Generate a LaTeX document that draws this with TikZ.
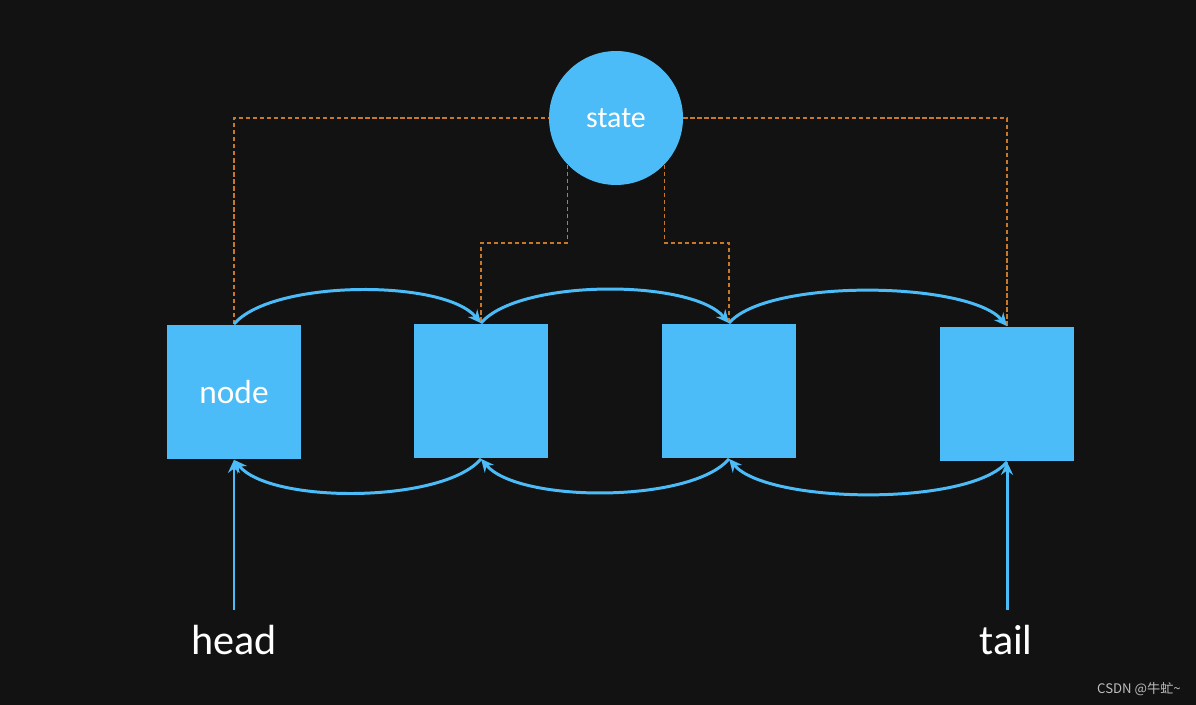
\documentclass[tikz,border=0pt]{standalone}
\usepackage{xcolor}
\usepackage{fontspec}
\setmainfont{Carlito}
\newfontfamily\cjk{Noto Sans CJK SC}
\usetikzlibrary{arrows.meta,positioning}

\definecolor{board}{RGB}{18,18,18}
\definecolor{skyblue}{RGB}{76,188,248}
\definecolor{wire}{RGB}{200,120,42}
\definecolor{mark}{RGB}{190,190,190}

\begin{document}
\begin{tikzpicture}[
  x=0.02cm, y=-0.02cm,
  >={Stealth[length=2.6mm, width=2.4mm]},
  every node/.style={align=center, text=white},
  cell/.style={fill=skyblue, minimum width=2.68cm, minimum height=2.7cm, inner sep=0pt, font=\fontsize{19}{21}\selectfont},
  hub/.style={circle, fill=skyblue, minimum size=2.68cm, inner sep=0pt, font=\fontsize{17}{19}\selectfont},
  link/.style={->, line width=1.7pt, draw=skyblue},
  ptr/.style={->, line width=1.7pt, draw=skyblue},
  share/.style={draw=wire, line width=0.6pt, dash pattern=on 2.5pt off 1.5pt},
  lbl/.style={font=\fontsize{24}{26}\selectfont}
]
\fill[board] (0,0) rectangle (1196,705);
\useasboundingbox (0,0) rectangle (1196,705);

\node[hub] (state) at (616,118) {state};

\node[cell] (n1) at (234,392) {node};
\node[cell] (n2) at (481,391) {};
\node[cell] (n3) at (729,391) {};
\node[cell] (n4) at (1007,394) {};

% shared state wiring
\coordinate (bus) at (0,243);
\draw[share] (n1.north) |- (state.west);
\draw[share] (state.east) -| (n4.north);
\draw[share] (state.224) -- (state.224 |- bus) -| (n2.north);
\draw[share] (state.316) -- (state.316 |- bus) -| (n3.north);

% next links
\draw[link] (n1.north) to[out=50, in=130, looseness=0.6] (n2.north);
\draw[link] (n2.north) to[out=50, in=130, looseness=0.6] (n3.north);
\draw[link] (n3.north) to[out=50, in=130, looseness=0.54] (n4.north);

% prev links
\draw[link] (n2.south) to[out=-130, in=-50, looseness=0.6] (n1.south);
\draw[link] (n3.south) to[out=-130, in=-50, looseness=0.6] (n2.south);
\draw[link] (n4.south) to[out=-130, in=-50, looseness=0.54] (n3.south);

% head and tail pointers
\coordinate (hstart) at (234,610);
\coordinate (tstart) at (1007,610);
\draw[ptr] (hstart) -- (n1.south);
\draw[ptr] (tstart) -- (n4.south);
\node[lbl] (head) at (234,640) {head};
\node[lbl] (tail) at (1006,640) {tail};

\node[text=mark, font=\cjk\fontsize{7.5}{9}\selectfont] (credit) at (1139,689) {CSDN @牛虻\textasciitilde};
\end{tikzpicture}
\end{document}
